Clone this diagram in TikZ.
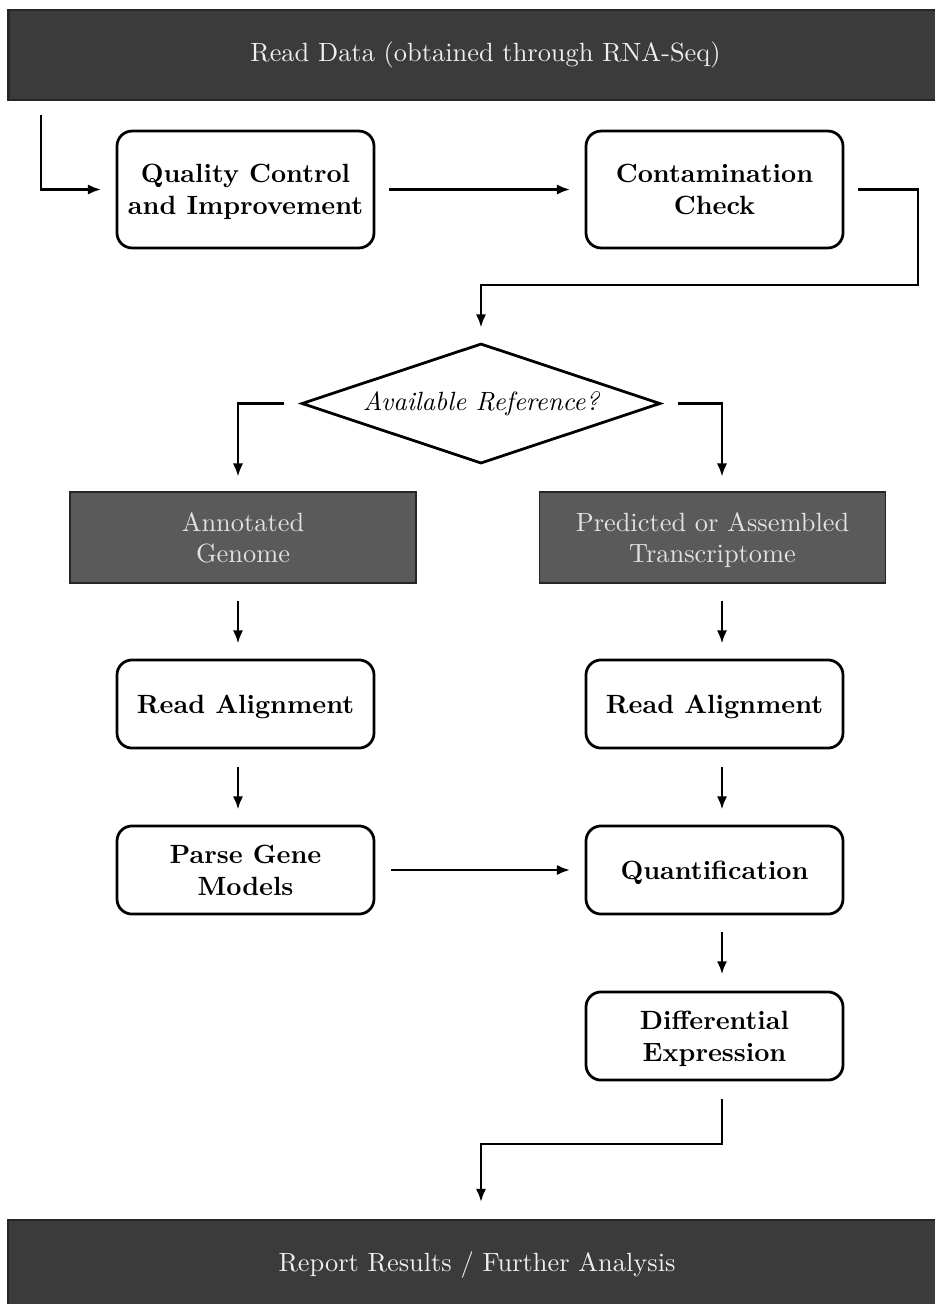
\documentclass[tikz,border=0pt]{standalone}
\usetikzlibrary{shapes.geometric,arrows.meta}
\definecolor{barfill}{HTML}{3B3B3B}
\definecolor{refill}{HTML}{5A5A5A}
\definecolor{bartext}{HTML}{EEEEEE}
\definecolor{reftext}{HTML}{E2E2E2}
\begin{document}
\begin{tikzpicture}[x=0.379pt,y=-0.379pt,
  proc/.style={draw, line width=1.05pt, rounded corners=5.7pt, fill=white, align=center,
    font=\bfseries, minimum width=97.4pt, minimum height=33.4pt, inner sep=0pt, text depth=0pt},
  proctall/.style={proc, minimum height=44.3pt},
  refbox/.style={draw=black!85, line width=0.6pt, fill=refill, text=reftext, align=center,
    minimum width=131.1pt, minimum height=34.5pt, inner sep=0pt, text depth=0pt},
  bar/.style={draw=black!85, line width=0.8pt, fill=barfill, text=bartext,
    minimum height=34.1pt, inner sep=0pt},
  decision/.style={draw, line width=1.05pt, shape=diamond, aspect=3, font=\itshape,
    minimum width=136pt, minimum height=45.5pt, inner sep=0pt},
  conn/.style={line width=1.05pt, -{Latex[length=5pt,width=3.9pt]},
    shorten >=5.5pt, shorten <=5.3pt}
]
\useasboundingbox (0,0) rectangle (935,1304);

% bars
\node[bar, minimum width=361.6pt] (top) at (485.5,55) {Read Data (obtained through RNA-Seq)};
\node[bar, minimum width=355.5pt] (bot) at (477,1265) {Report Results / Further Analysis};

% process boxes
\node[proctall] (qc) at (245.5,189.5) {Quality Control\\and Improvement};
\node[proctall] (cc) at (714.5,189.5) {Contamination\\Check};

\node[decision] (dia) at (481,403.5) {Available Reference?};

\node[refbox] (gen) at (243,537.5) {Annotated\\Genome};
\node[refbox] (pred) at (712.5,537.5) {Predicted or Assembled\\Transcriptome};

\node[proc] (ra1) at (245.5,704) {Read Alignment};
\node[proc] (ra2) at (714.5,704) {Read Alignment};
\node[proc] (pg) at (245.5,870) {Parse Gene\\Models};
\node[proc] (qt) at (714.5,870) {Quantification};
\node[proc] (de) at (714.5,1036) {Differential\\Expression};

% helper coordinates
\coordinate (colL) at (238,0);
\coordinate (colR) at (722,0);
\coordinate (colM) at (481,0);
\coordinate (s0) at (41,115);
\coordinate (jr) at (918,285);
\coordinate (ja) at (481,285);
\coordinate (jb) at (481,1144);

% connectors
\draw[conn, shorten <=0pt] (s0) |- (qc.west);
\draw[conn] (qc.east) -- (cc.west);
\draw[conn] (cc.east) -| (jr) -- (ja) -- (dia.north);
\draw[conn, shorten <=6.1pt] (dia.west) -| (gen.north -| colL);
\draw[conn, shorten <=6.1pt] (dia.east) -| (pred.north -| colR);
\draw[conn, shorten <=6.4pt, shorten >=5.7pt] (gen.south -| colL) -- (ra1.north -| colL);
\draw[conn, shorten <=6.4pt, shorten >=5.7pt] (pred.south -| colR) -- (ra2.north -| colR);
\draw[conn, shorten <=6.8pt, shorten >=5.7pt] (ra1.south -| colL) -- (pg.north -| colL);
\draw[conn, shorten <=6.8pt, shorten >=5.7pt] (ra2.south -| colR) -- (qt.north -| colR);
\draw[conn, shorten <=6.1pt] (pg.east) -- (qt.west);
\draw[conn, shorten <=6.1pt, shorten >=6.1pt] (qt.south -| colR) -- (de.north -| colR);
\draw[conn, shorten <=6.8pt, shorten >=6.4pt] (de.south -| colR) |- (jb) -- (bot.north -| colM);
\end{tikzpicture}
\end{document}
